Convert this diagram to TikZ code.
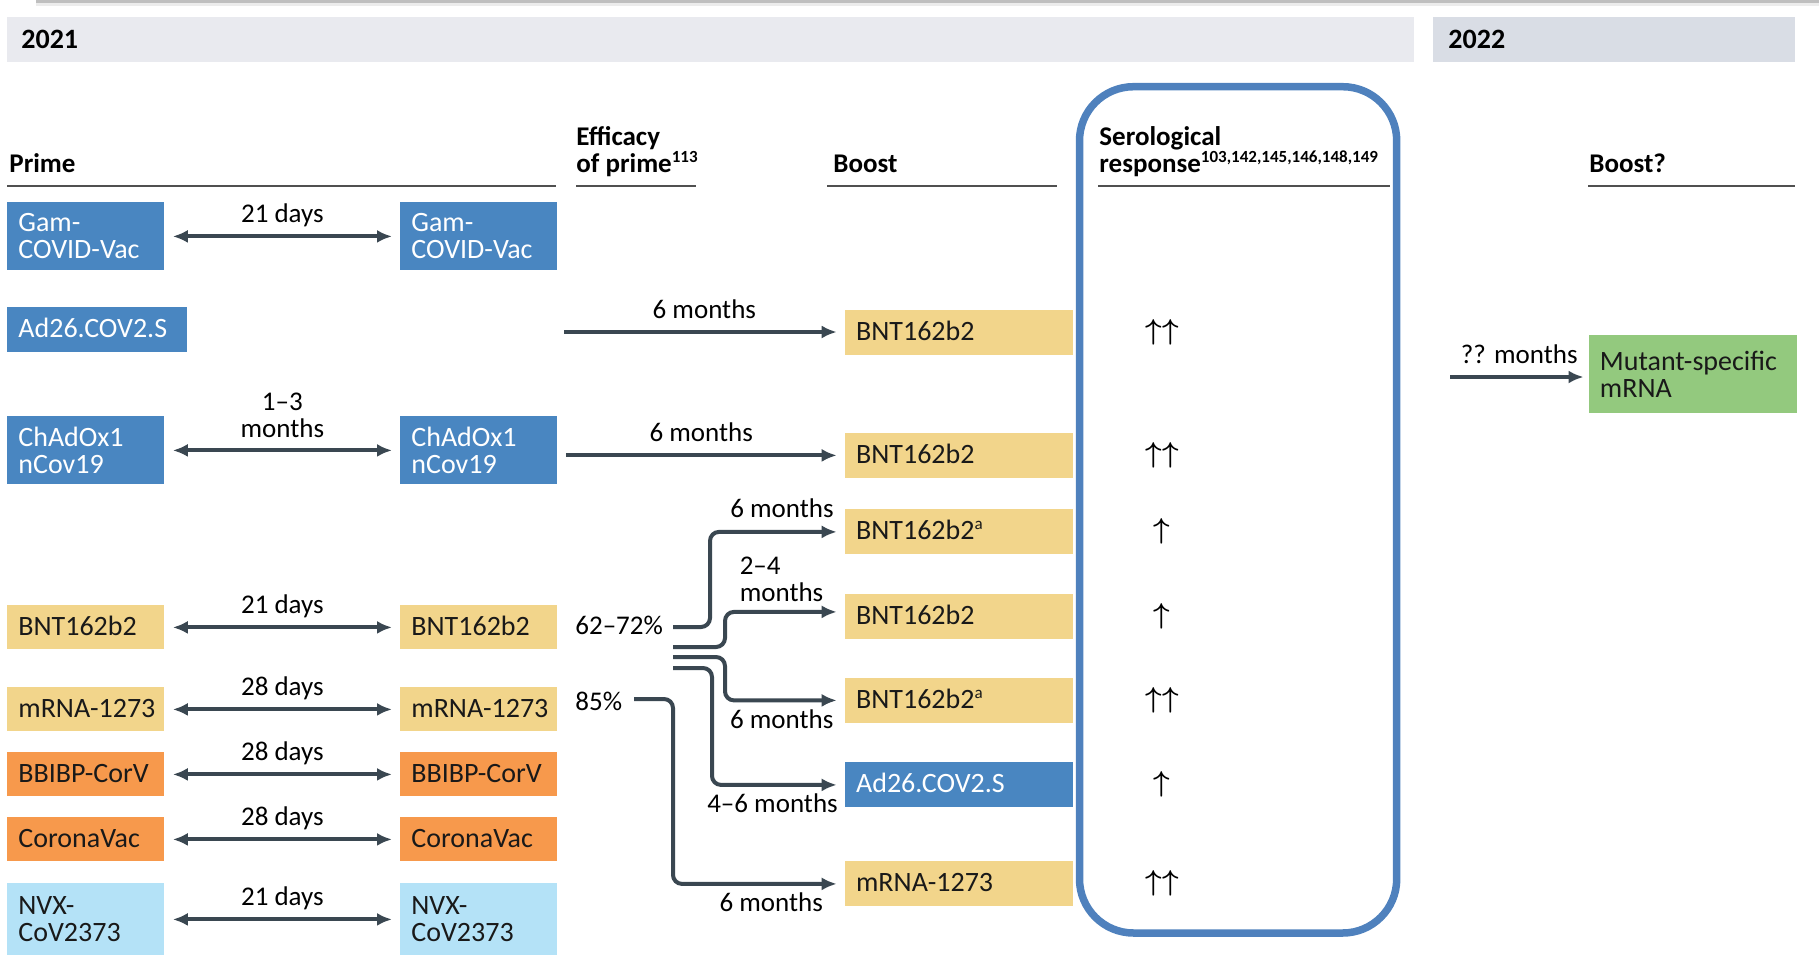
\documentclass[tikz,border=0pt]{standalone}
\usepackage{fontspec}
\setmainfont{Carlito}
\usetikzlibrary{arrows.meta}
\definecolor{vacblue}{HTML}{4986C1}
\definecolor{vacyellow}{HTML}{F2D58B}
\definecolor{vacorange}{HTML}{F7994C}
\definecolor{vaccyan}{HTML}{B4E2F7}
\definecolor{vacgreen}{HTML}{93C97E}
\definecolor{framebl}{HTML}{4F81BD}
\definecolor{conn}{HTML}{3A4751}
\definecolor{bandl}{HTML}{E9EAEF}
\definecolor{bandd}{HTML}{D9DDE5}
\definecolor{rulegray}{HTML}{505050}
\newcommand{\bxfont}{\fontsize{14}{13.5}\selectfont}
\newcommand{\lbfont}{\fontsize{13.5}{13.5}\selectfont}
\newcommand{\hdfont}{\fontsize{13.5}{13.5}\selectfont\bfseries}
\newcommand{\refs}[1]{\raisebox{0.75ex}{\fontsize{8.5}{8.5}\selectfont #1}}
\exhyphenpenalty=10000
\hyphenpenalty=10000
\begin{document}
\begin{tikzpicture}[x=0.5pt,y=-0.5pt,>={Latex[length=7.5pt,width=6.5pt]},
		box/.style={anchor=north west,inner xsep=5.5pt,inner ysep=0pt,align=left,font=\bxfont,text=black!90},
		one/.style={text height=10.5pt,text depth=2.8pt},
		pbox/.style={box,text width=67.5pt},
		bbox/.style={box,one,text width=103pt,minimum height=22.5pt},
		bl/.style={fill=vacblue,text=white},
		yl/.style={fill=vacyellow},
		og/.style={fill=vacorange},
		cy/.style={fill=vaccyan},
		link/.style={draw=conn,line width=2pt,rounded corners=4.5pt,shorten >=4pt},
		lbl/.style={midway,above,inner sep=1pt,text depth=5pt,font=\lbfont},
		lblb/.style={below,inner sep=1pt,text height=12pt,font=\lbfont},
		head/.style={anchor=base west,inner sep=0pt,align=left,font=\hdfont},
		year/.style={anchor=base west,inner sep=0pt,font=\fontsize{14}{14}\selectfont\bfseries},
		up/.style={inner sep=0pt,font=\fontsize{15.5}{15.5}\selectfont\boldmath},
		rule/.style={draw=rulegray,line width=1pt}]
	\useasboundingbox (0,0) rectangle (1819,959);
	\fill[gray!50] (36,0) rectangle (1819,3);
	\fill[gray!15] (36,3) rectangle (1819,6);
	\fill[bandl] (7,17) rectangle (1414,62);
	\fill[bandd] (1433,17) rectangle (1795,62);
	\draw (21,48) node[year] (y1) {2021};
	\draw (1448,48) node[year] (y2) {2022};
	\draw (9,172) node[head] (h1) {Prime};
	\draw (576,172) node[head] (h2) {Efficacy\\of prime\refs{113}};
	\draw (833,172) node[head] (h3) {Boost};
	\draw (1099,172) node[head] (h4) {Serological\\response\refs{103,142,145,146,148,149}};
	\draw (1589,172) node[head] (h5) {Boost?};
	\draw[rule] (7,186) -- (556,186);
	\draw[rule] (576,186) -- (696,186);
	\draw[rule] (827,186) -- (1057,186);
	\draw[rule] (1098,186) -- (1390,186);
	\draw[rule] (1588,186) -- (1795,186);
	\draw[draw=framebl,line width=3.75pt,rounded corners=27pt] (1079.5,86.7) rectangle (1396.7,933);
	\draw (7,202) node[pbox,bl,minimum height=34pt] (p1) {Gam-\\COVID-Vac};
	\draw (400,202) node[pbox,bl,minimum height=34pt] (q1) {Gam-\\COVID-Vac};
	\draw (7,307) node[box,bl,one,text width=79pt,minimum height=22.5pt] (p2) {Ad26.COV2.S};
	\draw (7,416) node[pbox,bl,minimum height=34pt] (p3) {ChAdOx1\\nCov19};
	\draw (400,416) node[pbox,bl,minimum height=34pt] (q3) {ChAdOx1\\nCov19};
	\draw (7,605) node[pbox,yl,one,minimum height=22pt] (p4) {BNT162b2};
	\draw (400,605) node[pbox,yl,one,minimum height=22pt] (q4) {BNT162b2};
	\draw (7,687) node[pbox,yl,one,minimum height=22pt] (p5) {mRNA-1273};
	\draw (400,687) node[pbox,yl,one,minimum height=22pt] (q5) {mRNA-1273};
	\draw (7,752) node[pbox,og,one,minimum height=22pt] (p6) {BBIBP-CorV};
	\draw (400,752) node[pbox,og,one,minimum height=22pt] (q6) {BBIBP-CorV};
	\draw (7,817) node[pbox,og,one,minimum height=22pt] (p7) {CoronaVac};
	\draw (400,817) node[pbox,og,one,minimum height=22pt] (q7) {CoronaVac};
	\draw (7,883) node[pbox,cy,minimum height=36pt] (p8) {NVX-\\CoV2373};
	\draw (400,883) node[pbox,cy,minimum height=36pt] (q8) {NVX-\\CoV2373};
	\draw (844.7,309.5) node[bbox,yl] (b1) {BNT162b2};
	\draw (844.7,432.5) node[bbox,yl] (b2) {BNT162b2};
	\draw (844.7,509) node[bbox,yl] (b3) {BNT162b2\refs{a}};
	\draw (844.7,594) node[bbox,yl] (b4) {BNT162b2};
	\draw (844.7,677.5) node[bbox,yl] (b5) {BNT162b2\refs{a}};
	\draw (844.7,762) node[bbox,bl] (b6) {Ad26.COV2.S};
	\draw (844.7,861) node[bbox,yl] (b7) {mRNA-1273};
	\draw (1588.5,335) node[box,text width=93pt,minimum height=39pt,fill=vacgreen] (g1) {Mutant-specific\\mRNA};
	\draw (575,634) node[anchor=base west,inner sep=0pt,font=\lbfont] (e1) {62--72\%};
	\draw (575,710) node[anchor=base west,inner sep=0pt,font=\lbfont] (e2) {85\%};
	\draw (1162,332) node[up] (r1) {$\uparrow\uparrow$};
	\draw (1162,455) node[up] (r2) {$\uparrow\uparrow$};
	\draw (1162,531.5) node[up] (r3) {$\uparrow$};
	\draw (1162,616.5) node[up] (r4) {$\uparrow$};
	\draw (1162,700) node[up] (r5) {$\uparrow\uparrow$};
	\draw (1162,784.5) node[up] (r6) {$\uparrow$};
	\draw (1162,883.5) node[up] (r7) {$\uparrow\uparrow$};
	\coordinate (s2) at (564,332);
	\coordinate (t1) at (673,627);
	\coordinate (t2) at (673,647);
	\coordinate (t3) at (673,657);
	\coordinate (t4) at (673,668);
	\coordinate (t5) at (634,699);
	\coordinate (s9) at (1450,377);
	\draw[link,<->,shorten <=4pt] (p1) -- (q1) node[lbl] {21 days};
	\draw[link,<->,shorten <=4pt] (p3) -- (q3) node[midway,above,inner sep=1pt,yshift=4.5pt,align=center,font=\lbfont] {1--3\\months};
	\draw[link,<->,shorten <=4pt] (p4) -- (q4) node[lbl] {21 days};
	\draw[link,<->,shorten <=4pt] (p5) -- (q5) node[lbl] {28 days};
	\draw[link,<->,shorten <=4pt] (p6) -- (q6) node[lbl] {28 days};
	\draw[link,<->,shorten <=4pt] (p7) -- (q7) node[lbl] {28 days};
	\draw[link,<->,shorten <=4pt] (p8) -- (q8) node[lbl] {21 days};
	\draw[link,->] (s2) -- (s2 -| b1.west) node[lbl] {6 months};
	\draw[link,->,shorten <=4pt] (q3.east |- b2.west) -- (b2.west) node[lbl] {6 months};
	\draw[link,->] (t1) -- ++(37,0) |- (b3.west) node[lbl,pos=0.767] {6 months};
	\draw[link,->] (t2) -- ++(52,0) |- ([yshift=2.5pt]b4.west) node[pos=0.545,above right,inner sep=1pt,yshift=3pt,align=left,font=\lbfont] {2--4\\months};
	\draw[link,->] (t3) -- ++(52,0) |- (b5.west) node[lblb,pos=0.737] {6 months};
	\draw[link,->] (t4) -- ++(39,0) |- (b6.west) node[lblb,pos=0.728] {4--6 months};
	\draw[link,->] (t5) -- ++(39,0) |- (b7.west) node[lblb,pos=0.786] {6 months};
	\draw[link,->,shorten >=2.5pt] (s9) -- (s9 -| g1.west) node[lbl] {?? months};
\end{tikzpicture}
\end{document}
